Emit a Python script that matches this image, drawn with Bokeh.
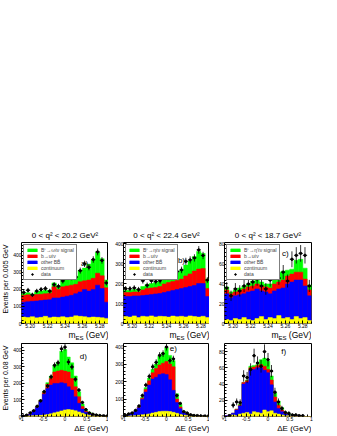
import math
import numpy as np
from bokeh.plotting import figure
from bokeh.layouts import column, row
from bokeh.models import (Spacer, Label, Legend, LegendItem, Range1d,
                          FixedTicker, PrintfTickFormatter)
from bokeh.embed import file_html
from bokeh.resources import INLINE

FONT = "Liberation Sans"
COL_SIG, COL_BU, COL_BB, COL_CONT = "#00ff00", "#ff0000", "#0000ff", "#ffff00"

# ---------------- binning / ticks ----------------
MES_RANGE, MES_BINS = (5.19, 5.29), 20
DE_RANGE, DE_BINS = (-1.0, 1.0), 25
mes_ticks = [5.20, 5.22, 5.24, 5.26, 5.28]
de_ticks = [-1, -0.5, 0, 0.5, 1]
de_tick_labels = ["-1", "-0.5", "0", "0.5", "1"]
y_ticks_big = [0, 100, 200, 300, 400]
y_ticks_small = [0, 20, 40, 60, 80]

titles = ["0 < q² < 20.2 GeV²", "0 < q² < 22.4 GeV²", "0 < q² < 18.7 GeV²"]
signal_names = ["B⁺→ωℓν signal", "B⁺→ηℓν signal", "B⁺→η′ℓν signal"]
legend_names = ["b→uℓν", "other BB\u0304", "continuum", "data"]
tags = ["a)", "b)", "c)", "d)", "e)", "f)"]
ylabels = ["Events per 0.005 GeV", "Events per 0.08 GeV"]

# ---------------- panel a (mES, omega) ----------------
a_cont = [38, 35, 40, 33, 36, 42, 34, 38, 36, 40, 35, 38, 45, 42, 40, 35, 38, 36, 34, 30]
a_bbbar = [87, 93, 90, 99, 99, 96, 106, 112, 114, 115, 125, 127, 130, 143, 160, 155, 162, 189, 171, 95]
a_bulnu = [40, 40, 35, 38, 37, 37, 38, 65, 50, 60, 60, 60, 55, 60, 50, 65, 65, 70, 75, 85]
a_sig = [10, 12, 7, 15, 18, 20, 14, 23, 22, 40, 48, 47, 48, 67, 75, 93, 107, 123, 100, 45]
a_data = [182, 195, 168, 190, 200, 205, 190, 228, 218, 250, 275, 270, 272, 310, 350, 330, 375, 420, 370, 238]

# ---------------- panel b (mES, eta) ----------------
b_cont = [35, 32, 38, 30, 36, 34, 38, 33, 36, 35, 32, 37, 34, 36, 33, 38, 35, 32, 36, 30]
b_bbbar = [100, 103, 100, 108, 104, 108, 107, 115, 114, 120, 128, 128, 136, 139, 147, 147, 155, 168, 164, 105]
b_bulnu = [20, 20, 20, 20, 28, 33, 33, 32, 35, 43, 45, 45, 45, 47, 58, 63, 72, 72, 75, 40]
b_sig = [10, 11, 12, 12, 17, 20, 22, 25, 25, 32, 35, 35, 40, 43, 54, 64, 73, 88, 75, 47]
b_data = [174, 174, 178, 170, 214, 191, 214, 210, 214, 243, 251, 243, 260, 268, 311, 318, 328, 368, 340, 217]

# ---------------- panel c (mES, eta') ----------------
c_cont = [4, 3, 5, 4, 6, 4, 3, 5, 7, 4, 6, 5, 8, 5, 6, 4, 7, 5, 6, 3]
c_bbbar = [26, 23, 23, 25, 24, 28, 30, 30, 26, 28, 24, 28, 27, 31, 34, 38, 37, 39, 32, 25]
c_bulnu = [4, 4, 4, 4, 5, 5, 5, 5, 5, 5, 6, 7, 7, 8, 8, 8, 8, 8, 7, 6]
c_sig = [3, 2, 2, 3, 3, 3, 5, 5, 4, 3, 4, 4, 10, 9, 6, 5, 12, 13, 11, 5]
c_data = [36, 28, 35, 33, 38, 40, 42, 45, 38, 35, 44, 58, 46, 52, 43, 65, 69, 71, 69, 38]

# ---------------- panel d (DeltaE, omega) ----------------
d_cont = [3, 3, 4, 5, 6, 7, 9, 12, 16, 22, 28, 34, 40, 42, 40, 35, 28, 20, 12, 8, 5, 4, 3, 2, 2]
d_bbbar = [2, 5, 10, 27, 49, 85, 126, 158, 174, 178, 172, 171, 160, 138, 120, 85, 52, 25, 13, 7, 5, 3, 2, 1, 0]
d_bulnu = [0, 0, 1, 2, 3, 6, 10, 25, 40, 70, 75, 75, 75, 90, 70, 60, 40, 15, 7, 5, 2, 1, 1, 0, 0]
d_sig = [0, 0, 0, 1, 2, 2, 5, 10, 15, 40, 55, 115, 130, 90, 95, 65, 30, 15, 8, 5, 3, 2, 1, 1, 0]
d_data = [3, 8, 22, 35, 62, 95, 150, 185, 240, 310, 325, 410, 420, 330, 300, 225, 160, 85, 42, 22, 14, 9, 6, 4, 2]

# ---------------- panel e (DeltaE, eta) ----------------
e_cont = [3, 3, 4, 5, 7, 10, 12, 15, 20, 24, 28, 30, 30, 28, 24, 18, 12, 8, 6, 4, 3, 2, 2, 1, 1]
e_bbbar = [3, 8, 13, 23, 43, 88, 128, 165, 195, 201, 212, 215, 210, 182, 126, 62, 33, 14, 7, 4, 2, 2, 1, 1, 0]
e_bulnu = [0, 1, 1, 2, 4, 7, 15, 25, 35, 50, 55, 60, 75, 90, 135, 20, 10, 3, 2, 1, 1, 0, 0, 0, 0]
e_sig = [0, 0, 0, 0, 1, 5, 10, 15, 20, 25, 50, 60, 80, 50, 35, 30, 15, 5, 3, 1, 1, 1, 0, 0, 0]
e_data = [8, 15, 20, 35, 60, 120, 180, 230, 285, 310, 350, 360, 398, 320, 330, 120, 75, 28, 20, 10, 6, 5, 3, 2, 1]

# ---------------- panel f (DeltaE, eta') ----------------
f_cont = [0, 1, 2, 1, 3, 4, 5, 3, 6, 5, 4, 8, 6, 7, 4, 3, 2, 1, 1, 0, 0, 0, 0, 0, 0]
f_bbbar = [1, 1, 2, 7, 10, 36, 37, 54, 52, 55, 56, 49, 48, 32, 14, 7, 4, 2, 1, 1, 1, 1, 0, 0, 0]
f_bulnu = [0, 0, 0, 1, 1, 2, 2, 3, 3, 3, 4, 5, 4, 6, 6, 4, 2, 1, 0, 0, 0, 0, 0, 0, 0]
f_sig = [0, 0, 0, 0, 1, 0, 1, 2, 2, 1, 6, 10, 10, 5, 5, 5, 3, 1, 1, 1, 0, 0, 0, 0, 0]
f_data = [0, 1, 14, 18, 17, 50, 48, 58, 75, 66, 62, 80, 70, 56, 30, 18, 10, 5, 4, 2, 2, 1, 1, 0, 0]

# Arial-like advance widths (em) for positioning the composite axis label
ADV = {" ": 0.278, "(": 0.333, ")": 0.333, "G": 0.778, "e": 0.556, "V": 0.667,
       "E": 0.667, "S": 0.667, "m": 0.833}


def tw(s, size):
    return sum(ADV.get(ch, 0.556) for ch in s) * size


# ---------------- geometry (px) ----------------
FW = [87, 86, 87]          # frame widths of the three columns
BL = [11, 15, 15]          # left borders (tick labels)
BR = [0, 0, 10]
YLAB_W = 10
TOP_FH, BOT_FH = 81, 73
TOP_SPACE = 227
TITLE_H, MES_H, DE_H = 14, 12, 12
TB_TOP, TB_BOT = 1, 7      # panel borders above/below frame


def text_fig(w, h, labels):
    t = figure(frame_width=w, frame_height=h, x_range=Range1d(0, 1), y_range=Range1d(0, 1),
               output_backend="svg", toolbar_location=None, x_axis_type=None,
               y_axis_type=None, min_border=0, min_border_left=0, min_border_right=0,
               min_border_top=0, min_border_bottom=0, outline_line_color=None,
               background_fill_color="white", border_fill_color="white")
    t.xgrid.visible = False
    t.ygrid.visible = False
    for lb in labels:
        t.add_layout(lb)
    return t


def lab(x, y, text, size, align="left", baseline="middle", angle=0.0):
    return Label(x=x, y=y, x_units="screen", y_units="screen", text=text, angle=angle,
                 text_align=align, text_baseline=baseline, text_font=FONT,
                 text_font_size=f"{size}px", text_color="black")


def build(kind, comps, data, ymax, yticks, yminor, col, fh, tag, tagpos, signame=None):
    lo, hi = MES_RANGE if kind == "mes" else DE_RANGE
    nb = MES_BINS if kind == "mes" else DE_BINS
    edges = np.linspace(lo, hi, nb + 1)
    left, right = edges[:-1], edges[1:]
    centers = 0.5 * (left + right)
    fw = FW[col]

    p = figure(width=BL[col] + fw + BR[col], height=TB_TOP + fh + TB_BOT,
               x_range=Range1d(lo, hi),
               y_range=Range1d(0, ymax), output_backend="svg", toolbar_location=None,
               min_border_left=BL[col], min_border_right=BR[col], min_border_top=TB_TOP,
               min_border_bottom=TB_BOT, background_fill_color="white",
               border_fill_color="white")

    cum = np.cumsum(np.array(comps, dtype=float), axis=0)
    colors = [COL_CONT, COL_BB, COL_BU, COL_SIG]
    rs = [None] * 4
    for i in (3, 2, 1, 0):
        rs[i] = p.quad(left=left, right=right, bottom=0, top=cum[i],
                       fill_color=colors[i], line_color=colors[i], line_width=0.5)

    d = np.array(data, dtype=float)
    m = d > 0
    err = np.sqrt(d[m])
    p.segment(x0=centers[m], y0=d[m] - err, x1=centers[m], y1=d[m] + err,
              line_color="black", line_width=0.8)
    p.segment(x0=left[m], y0=d[m], x1=right[m], y1=d[m],
              line_color="black", line_width=0.8)
    rd = p.scatter(x=centers[m], y=d[m], size=2.4, marker="circle",
                   fill_color="black", line_color="black")

    if kind == "mes":
        p.xaxis.ticker = FixedTicker(ticks=mes_ticks,
                                     minor_ticks=list(np.arange(5.19, 5.2901, 0.005)))
        p.xaxis.formatter = PrintfTickFormatter(format="%.2f")
    else:
        p.xaxis.ticker = FixedTicker(ticks=de_ticks,
                                     minor_ticks=list(np.arange(-1.0, 1.0001, 0.1)))
        p.xaxis.major_label_overrides = {float(t): s for t, s in zip(de_ticks, de_tick_labels)}
    p.yaxis.ticker = FixedTicker(ticks=yticks, minor_ticks=yminor)
    for ax in (p.xaxis[0], p.yaxis[0]):
        ax.axis_line_color = None
        ax.major_tick_in = 3
        ax.major_tick_out = 0
        ax.minor_tick_in = 2
        ax.minor_tick_out = 0
        ax.major_tick_line_color = "black"
        ax.minor_tick_line_color = "black"
        ax.major_label_text_font = FONT
        ax.major_label_text_font_size = "5px"
        ax.major_label_text_color = "black"
        ax.major_label_standoff = 0
        ax.axis_label_standoff = 0
    p.xgrid.visible = False
    p.ygrid.visible = False
    p.outline_line_color = "black"
    p.outline_line_width = 1

    p.add_layout(lab(tagpos[0] * fw, tagpos[1] * fh, tag, 8, "center", "middle"))

    if signame:
        items = [LegendItem(label=signame, renderers=[rs[3]]),
                 LegendItem(label=legend_names[0], renderers=[rs[2]]),
                 LegendItem(label=legend_names[1], renderers=[rs[1]]),
                 LegendItem(label=legend_names[2], renderers=[rs[0]]),
                 LegendItem(label=legend_names[3], renderers=[rd])]
        leg = Legend(items=items, location="top_left", label_text_font=FONT,
                     label_text_font_size="5px", label_height=5, label_standoff=3,
                     glyph_height=4, glyph_width=12, spacing=0, padding=2, margin=2,
                     border_line_color="black", border_line_width=0.6,
                     background_fill_color="white", background_fill_alpha=1.0)
        p.add_layout(leg)
    return p


minor_big = list(range(0, 481, 20))
minor_small = list(range(0, 91, 4))

pa = build("mes", [a_cont, a_bbbar, a_bulnu, a_sig], a_data, 475, y_ticks_big, minor_big,
           0, TOP_FH, tags[0], (0.724, 0.74), signal_names[0])
pb = build("mes", [b_cont, b_bbbar, b_bulnu, b_sig], b_data, 405, y_ticks_big, minor_big,
           1, TOP_FH, tags[1], (0.674, 0.78), signal_names[1])
pc = build("mes", [c_cont, c_bbbar, c_bulnu, c_sig], c_data, 82, y_ticks_small, minor_small,
           2, TOP_FH, tags[2], (0.70, 0.86), signal_names[2])
pd = build("de", [d_cont, d_bbbar, d_bulnu, d_sig], d_data, 442, y_ticks_big, minor_big,
           0, BOT_FH, tags[3], (0.71, 0.82))
pe = build("de", [e_cont, e_bbbar, e_bulnu, e_sig], e_data, 418, y_ticks_big, minor_big,
           1, BOT_FH, tags[4], (0.58, 0.93))
pf = build("de", [f_cont, f_bbbar, f_bulnu, f_sig], f_data, 90, y_ticks_small, minor_small,
           2, BOT_FH, tags[5], (0.68, 0.89))

top_h = TB_TOP + TOP_FH + TB_BOT
bot_h = TB_TOP + BOT_FH + TB_BOT


def strip(h, make):
    kids = [Spacer(width=YLAB_W + BL[0], height=h)]
    for c in range(3):
        kids.append(text_fig(FW[c], h, make(c)))
        if c < 2:
            kids.append(Spacer(width=BR[c] + BL[c + 1], height=h))
    return row(*kids)


def mes_labels(c):
    fw = FW[c]
    fsm, fss = 8.5, 6.0
    w_gev = tw("(GeV)", fsm) + tw(" ", fsm)
    w_es = tw("ES", fss)
    return [lab(fw, 7.5, "(GeV)", fsm, "right"),
            lab(fw - w_gev, 5.0, "ES", fss, "right"),
            lab(fw - w_gev - w_es, 7.5, "m", fsm, "right")]


title_row = strip(TITLE_H, lambda c: [lab(FW[c] / 2, 6, titles[c], 8, "center")])
mes_row = strip(MES_H, mes_labels)
de_row = strip(DE_H, lambda c: [lab(FW[c], 7, "ΔE (GeV)", 8, "right")])

ylab_top = text_fig(YLAB_W, top_h, [lab(5, top_h - 2, ylabels[0], 7,
                                        "right", "middle", math.pi / 2)])
ylab_bot = text_fig(YLAB_W, bot_h, [lab(5, bot_h - 2, ylabels[1], 7,
                                        "right", "middle", math.pi / 2)])

layout = column(Spacer(width=10, height=TOP_SPACE), title_row,
                row(ylab_top, pa, pb, pc), mes_row,
                row(ylab_bot, pd, pe, pf), de_row)

with open("out.html", "w") as fh_out:
    fh_out.write(file_html(layout, INLINE))
